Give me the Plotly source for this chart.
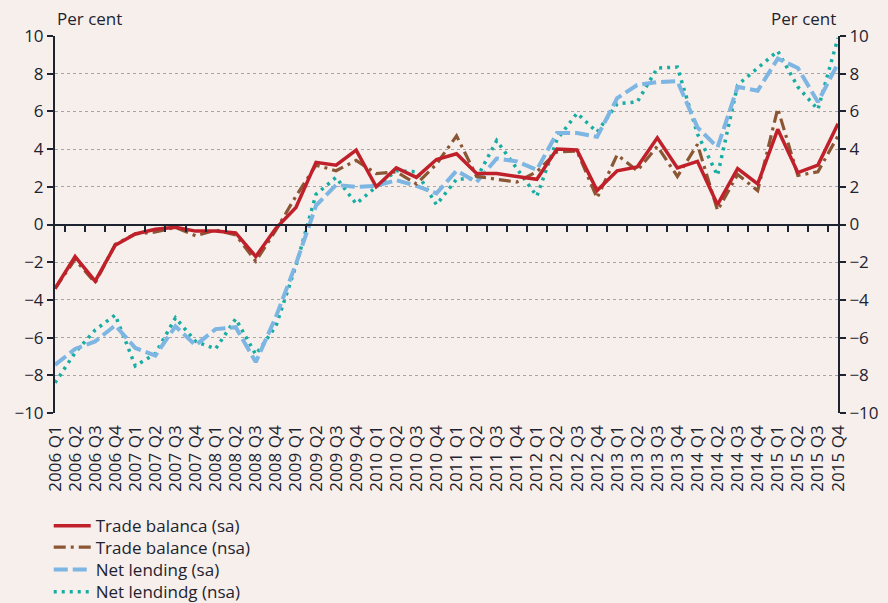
import plotly.graph_objects as go

quarters = [f"{y} Q{q}" for y in range(2006, 2016) for q in range(1, 5)]

trade_sa = [-3.4, -1.7, -3.0, -1.1, -0.5, -0.25, -0.15, -0.35, -0.35, -0.45,
            -1.7, -0.2, 0.9, 3.3, 3.15, 3.95, 2.0, 3.0, 2.5, 3.45,
            3.75, 2.7, 2.7, 2.55, 2.4, 4.0, 3.95, 1.8, 2.85, 3.05,
            4.6, 3.0, 3.35, 1.05, 2.97, 2.15, 5.05, 2.75, 3.15, 5.35]

trade_nsa = [-3.4, -1.85, -3.1, -1.05, -0.5, -0.4, -0.15, -0.6, -0.3, -0.55,
             -1.95, -0.3, 1.5, 3.15, 2.85, 3.4, 2.7, 2.8, 2.15, 3.2,
             4.7, 2.55, 2.4, 2.25, 2.8, 3.85, 3.9, 1.4, 3.7, 2.85,
             4.15, 2.55, 4.25, 0.75, 2.65, 1.8, 6.15, 2.6, 2.8, 4.7]

lending_sa = [-7.45, -6.6, -6.2, -5.35, -6.55, -6.95, -5.4, -6.4, -5.55, -5.45,
              -7.3, -4.9, -2.1, 1.0, 2.1, 2.0, 2.05, 2.35, 2.05, 1.65,
              2.85, 2.25, 3.5, 3.35, 2.9, 4.85, 4.85, 4.65, 6.7, 7.4,
              7.55, 7.6, 5.15, 4.1, 7.3, 7.1, 8.8, 8.3, 6.5, 8.55]

lending_nsa = [-8.4, -6.8, -5.6, -4.8, -7.5, -6.85, -4.95, -6.2, -6.6, -5.0,
               -6.9, -5.4, -2.2, 1.6, 2.5, 1.1, 2.0, 2.85, 2.8, 1.05,
               2.4, 2.45, 4.45, 3.0, 1.5, 4.5, 5.9, 4.9, 6.4, 6.5,
               8.3, 8.35, 4.8, 2.6, 7.4, 8.3, 9.2, 7.3, 6.1, 9.9]

ytick_vals = [-10, -8, -6, -4, -2, 0, 2, 4, 6, 8, 10]
ytick_text = ["\u221210", "\u22128", "\u22126", "\u22124", "\u22122", "0", "2", "4", "6", "8", "10"]

BG = "#F6EFEC"
INK = "#1E2330"
FONT = "Open Sans"

fig = go.Figure()

fig.add_trace(go.Scatter(x=quarters, y=lending_nsa, name="Net lendindg (nsa)", mode="lines",
                         line=dict(color="#17ADA3", width=3.5, dash="3px,5px"), legend="legend4"))
fig.add_trace(go.Scatter(x=quarters, y=lending_sa, name="Net lending (sa)", mode="lines",
                         line=dict(color="#7DB5E3", width=4, dash="14px,5px"), legend="legend3"))
fig.add_trace(go.Scatter(x=quarters, y=trade_nsa, name="Trade balance (nsa)", mode="lines",
                         line=dict(color="#8B5634", width=3.2, dash="12px,5px,3px,5px"), legend="legend2"))
fig.add_trace(go.Scatter(x=quarters, y=trade_sa, name="Trade balanca (sa)", mode="lines",
                         line=dict(color="#C0202A", width=3.5), legend="legend"))

# invisible helper trace so the zero-line axis and right axis are drawn
fig.add_trace(go.Scatter(x=quarters, y=[None] * len(quarters), xaxis="x2", yaxis="y2",
                         mode="lines", showlegend=False, hoverinfo="skip"))

axis_common = dict(range=[-10, 10], tickvals=ytick_vals, ticktext=ytick_text,
                   showline=True, linecolor=INK, linewidth=2, ticks="outside",
                   ticklen=6, tickwidth=2, tickcolor=INK, zeroline=False,
                   tickfont=dict(size=17, color=INK, family=FONT))


def legend_row(ypos):
    return dict(orientation="v", x=-0.008, xanchor="left", y=ypos, yanchor="middle",
                bgcolor="rgba(0,0,0,0)", font=dict(size=17, color=INK, family=FONT),
                itemwidth=37)


fig.update_layout(
    width=888, height=603,
    paper_bgcolor=BG, plot_bgcolor=BG,
    margin=dict(l=55, r=50, t=36, b=190, autoexpand=False),
    font=dict(family=FONT, color=INK),
    xaxis=dict(type="category", showline=False, ticks="", tickangle=-90,
               showgrid=False, zeroline=False, automargin=False, ticklabelstandoff=8,
               tickfont=dict(size=17, color=INK, family=FONT)),
    xaxis2=dict(type="category", overlaying="x", matches="x", anchor="free", position=0.5,
                showline=True, linecolor=INK, linewidth=2, ticks="outside",
                tickson="boundaries", ticklen=6, tickwidth=2, tickcolor=INK,
                showticklabels=False, showgrid=False, zeroline=False),
    yaxis=dict(**axis_common, showgrid=True, gridcolor="#A8A4A4", griddash="dot", gridwidth=1,
               automargin=False),
    yaxis2=dict(**axis_common, overlaying="y", side="right", anchor="x", showgrid=False,
                automargin=False),
    legend=legend_row(-0.300),
    legend2=legend_row(-0.357),
    legend3=legend_row(-0.416),
    legend4=legend_row(-0.475),
    showlegend=True,
    annotations=[
        dict(text="Per cent", xref="paper", yref="paper", x=0, y=1, xanchor="left",
             yanchor="bottom", yshift=4, showarrow=False, font=dict(size=17, color=INK, family=FONT)),
        dict(text="Per cent", xref="paper", yref="paper", x=1, y=1, xanchor="right",
             yanchor="bottom", yshift=4, showarrow=False, font=dict(size=17, color=INK, family=FONT)),
    ],
)

fig.write_html(
    "out.html",
    config={"displayModeBar": False},
    post_script="document.body.style.margin='0';document.body.style.background='" + BG + "';",
)
